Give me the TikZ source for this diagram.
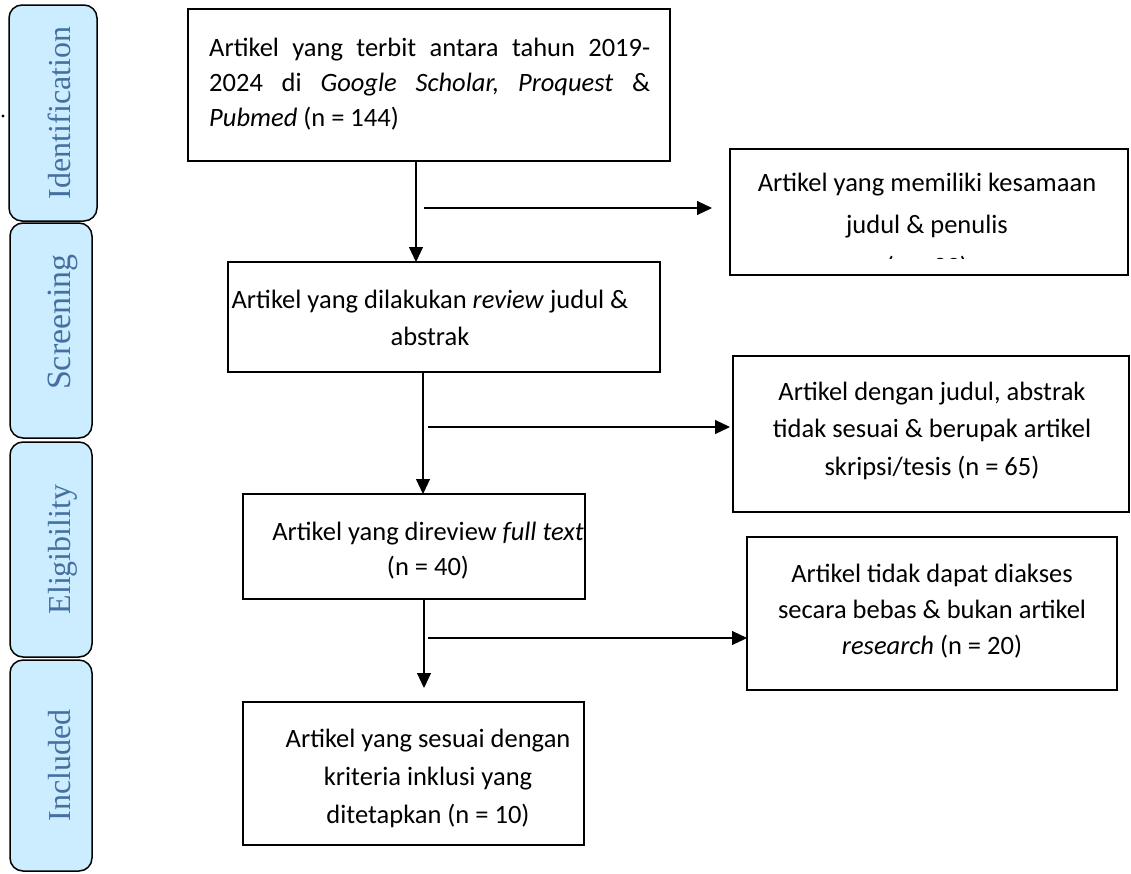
\documentclass[tikz,border=0pt]{standalone}
\usepackage{fontspec}
\setmainfont{Carlito}
\newfontfamily\sidefont{Liberation Serif}
\usetikzlibrary{arrows.meta}
\definecolor{sidefill}{RGB}{204,236,255}
\definecolor{sidetext}{RGB}{68,112,160}
\begin{document}
\begin{tikzpicture}[x=1pt,y=-1pt,
  sidebox/.style={draw, line width=1.5pt, fill=sidefill, rounded corners=13pt, inner sep=0pt, outer sep=0pt},
  sidelabel/.style={rotate=90, anchor=base, inner sep=0pt, text=sidetext, font=\sidefont\fontsize{32}{38}\selectfont},
  flowbox/.style={draw, line width=1.5pt, inner sep=0pt, outer sep=0pt},
  txt/.style={inner sep=0pt, anchor=base, align=center},
  arr/.style={line width=1.1pt, -{Triangle[length=15pt,width=14pt]}}
]
\useasboundingbox (0,0) rectangle (1131,873);

% side phase boxes
\node[sidebox, minimum width=88pt, minimum height=216pt] (S1) at (53,113) {};
\node[sidebox, minimum width=82pt, minimum height=215pt] (S2) at (51,330.5) {};
\node[sidebox, minimum width=82pt, minimum height=215pt] (S3) at (51,549.5) {};
\node[sidebox, minimum width=82pt, minimum height=211pt] (S4) at (51,765.5) {};
\node[sidelabel] (L1) at (70,113) {Identification};
\node[sidelabel, font=\sidefont\fontsize{34}{40}\selectfont] (L2) at (70,322) {Screening};
\node[sidelabel] (L3) at (70,549.5) {Eligibility};
\node[sidelabel] (L4) at (70,765.5) {Included};
\fill (3,116) circle (1.6pt);

% main boxes
\node[flowbox, minimum width=482pt, minimum height=152pt] (B1) at (429,85) {};
\node[flowbox, minimum width=432pt, minimum height=110pt] (B2) at (444,317) {};
\node[flowbox, minimum width=342pt, minimum height=105pt] (B3) at (414,546.5) {};
\node[flowbox, minimum width=341pt, minimum height=143pt] (B4) at (413.5,773.5) {};
\node[flowbox, minimum width=398pt, minimum height=126pt] (R1) at (929,212) {};
\node[flowbox, minimum width=396pt, minimum height=156pt] (R2) at (931,434) {};
\node[flowbox, minimum width=370pt, minimum height=153pt] (R3) at (932,613.5) {};

% texts (anchored at the baseline of their last line)
\node[txt, anchor=base west, align=left, font=\fontsize{26.5}{35}\selectfont] (T1) at (209,126)
  {\hbox to 441pt{Artikel\hfill yang\hfill terbit\hfill antara\hfill tahun\hfill 2019-}\\
   \hbox to 441pt{2024\hfill di\hfill \textit{Google}\hfill \textit{Scholar,}\hfill \textit{Proquest}\hfill \&}\\
   \textit{Pubmed} (n = 144)};
\node[txt, font=\fontsize{26.5}{37}\selectfont] (T2) at (430,345) {Artikel yang dilakukan \textit{review} judul \&\\abstrak};
\node[txt, font=\fontsize{26.5}{35}\selectfont] (T3) at (428,575) {Artikel yang direview \textit{full text}\\(n = 40)};
\node[txt, font=\fontsize{26.5}{38}\selectfont] (T4) at (428,823) {Artikel yang sesuai dengan\\kriteria inklusi yang\\ditetapkan (n = 10)};
\begin{scope}
  \clip (731,150) rectangle (1127,258);
  \node[txt, font=\fontsize{26.5}{42}\selectfont] (T5) at (927,275) {Artikel yang memiliki kesamaan\\judul \& penulis\\(n = 39)};
\end{scope}
\node[txt, font=\fontsize{26.5}{37.5}\selectfont] (T6) at (932,475) {Artikel dengan judul, abstrak\\tidak sesuai \& berupak artikel\\skripsi/tesis (n = 65)};
\node[txt, font=\fontsize{26.5}{36}\selectfont] (T7) at (932,654) {Artikel tidak dapat diakses\\secara bebas \& bukan artikel\\\textit{research} (n = 20)};

% connectors
\coordinate (a1) at (416,161);
\coordinate (h1) at (424,208);
\coordinate (a2) at (423,372);
\coordinate (h2) at (428,427);
\coordinate (a3) at (424,599);
\coordinate (h3) at (428,638);
\draw[arr] (a1) -- (a1 |- B2.north);
\draw[arr, shorten >=18pt] (h1) -- (h1 -| R1.west);
\draw[arr] (a2) -- (a2 |- B3.north);
\draw[arr, shorten >=3pt] (h2) -- (h2 -| R2.west);
\draw[arr, shorten >=14pt] (a3) -- (a3 |- B4.north);
\draw[arr] (h3) -- (h3 -| R3.west);
\end{tikzpicture}
\end{document}
